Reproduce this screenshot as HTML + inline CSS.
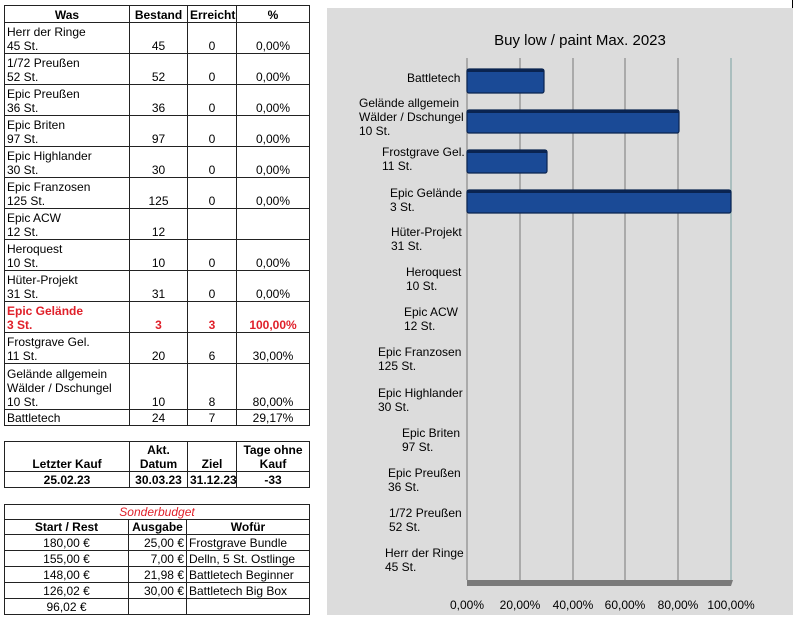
<!DOCTYPE html>
<html><head><meta charset="utf-8"><style>
body{margin:0;width:800px;height:623px;background:#fff;position:relative;overflow:hidden;font-family:"Liberation Sans",sans-serif;font-size:12px;color:#000}
table{position:absolute;border-collapse:collapse;table-layout:fixed;left:4px}
td{border:1px solid #222;padding:0 2px;line-height:14px;vertical-align:bottom;overflow:hidden;white-space:nowrap}
.c{text-align:center}.r{text-align:right}
.b{font-weight:bold}.red{color:#e0202a;font-weight:bold}
.lbl{position:absolute;font-size:12px;line-height:14px;text-align:left;white-space:nowrap}
</style></head><body>
<table style="top:5px;width:305px">
<col style="width:125px"><col style="width:58px"><col style="width:49px"><col style="width:73px">
<tr style="height:17px" class="b"><td class="c">Was</td><td class="c">Bestand</td><td class="c">Erreicht</td><td class="c">%</td></tr>
<tr style="height:31px"><td>Herr der Ringe<br>45 St.</td><td class="c">45</td><td class="c">0</td><td class="c">0,00%</td></tr>
<tr style="height:31px"><td>1/72 Preußen<br>52 St.</td><td class="c">52</td><td class="c">0</td><td class="c">0,00%</td></tr>
<tr style="height:31px"><td>Epic Preußen<br>36 St.</td><td class="c">36</td><td class="c">0</td><td class="c">0,00%</td></tr>
<tr style="height:31px"><td>Epic Briten<br>97 St.</td><td class="c">97</td><td class="c">0</td><td class="c">0,00%</td></tr>
<tr style="height:31px"><td>Epic Highlander<br>30 St.</td><td class="c">30</td><td class="c">0</td><td class="c">0,00%</td></tr>
<tr style="height:31px"><td>Epic Franzosen<br>125 St.</td><td class="c">125</td><td class="c">0</td><td class="c">0,00%</td></tr>
<tr style="height:31px"><td>Epic ACW<br>12 St.</td><td class="c">12</td><td></td><td></td></tr>
<tr style="height:31px"><td>Heroquest<br>10 St.</td><td class="c">10</td><td class="c">0</td><td class="c">0,00%</td></tr>
<tr style="height:31px"><td>Hüter-Projekt<br>31 St.</td><td class="c">31</td><td class="c">0</td><td class="c">0,00%</td></tr>
<tr style="height:31px" class="red"><td>Epic Gelände<br>3 St.</td><td class="c">3</td><td class="c">3</td><td class="c">100,00%</td></tr>
<tr style="height:31px"><td>Frostgrave Gel.<br>11 St.</td><td class="c">20</td><td class="c">6</td><td class="c">30,00%</td></tr>
<tr style="height:46px"><td>Gelände allgemein<br>Wälder / Dschungel<br>10 St.</td><td class="c">10</td><td class="c">8</td><td class="c">80,00%</td></tr>
<tr style="height:16px"><td>Battletech</td><td class="c">24</td><td class="c">7</td><td class="c">29,17%</td></tr>
</table>
<table style="top:441px;width:305px" class="b">
<col style="width:125px"><col style="width:58px"><col style="width:49px"><col style="width:73px">
<tr style="height:30px" class="b"><td class="c">Letzter Kauf</td><td class="c">Akt.<br>Datum</td><td class="c">Ziel</td><td class="c">Tage ohne<br>Kauf</td></tr>
<tr style="height:16px" class="b"><td class="c">25.02.23</td><td class="c">30.03.23</td><td class="c">31.12.23</td><td class="c">-33</td></tr>
</table>
<table style="top:504px;width:305px">
<col style="width:124px"><col style="width:58px"><col style="width:123px">
<tr style="height:15px"><td colspan="3" class="c" style="color:#e0202a;font-style:italic">Sonderbudget</td></tr>
<tr style="height:15px" class="b"><td class="c">Start / Rest</td><td class="c">Ausgabe</td><td class="c">Wofür</td></tr>
<tr style="height:16px"><td class="c">180,00 €</td><td class="r">25,00 €</td><td>Frostgrave Bundle</td></tr>
<tr style="height:16px"><td class="c">155,00 €</td><td class="r">7,00 €</td><td>Delln, 5 St. Ostlinge</td></tr>
<tr style="height:16px"><td class="c">148,00 €</td><td class="r">21,98 €</td><td>Battletech Beginner</td></tr>
<tr style="height:16px"><td class="c">126,02 €</td><td class="r">30,00 €</td><td>Battletech Big Box</td></tr>
<tr style="height:16px"><td class="c">96,02 €</td><td></td><td></td></tr>
</table>

<div style="position:absolute;left:327px;top:8px;width:466px;height:607px;background:#dcdcdc"></div>
<div style="position:absolute;left:792px;top:0;width:1px;height:8px;background:#000"></div>
<svg style="position:absolute;left:0;top:0" width="800" height="623">
<g stroke="#888" stroke-width="1.2">
<line x1="467" y1="58" x2="467" y2="580"/><line x1="520" y1="58" x2="520" y2="580"/><line x1="573" y1="58" x2="573" y2="580"/><line x1="625" y1="58" x2="625" y2="580"/><line x1="678" y1="58" x2="678" y2="580"/><line x1="731" y1="58" x2="731" y2="580" stroke="#8aa"/>
</g>
<polygon points="467,580 733,580 731,586 467,586" fill="#7a7a7a"/>
<g fill="#1a4a96" stroke="#0a2450" stroke-width="1.2">
<rect x="467" y="69" width="77" height="24" rx="2"/>
<rect x="467" y="110" width="212" height="23" rx="2"/>
<rect x="467" y="150" width="80" height="23" rx="2"/>
<rect x="467" y="190" width="264" height="23" rx="2"/>
</g>
<g fill="#0a2450"><rect x="467" y="69" width="77" height="3"/><rect x="467" y="110" width="212" height="3"/><rect x="467" y="150" width="80" height="3"/><rect x="467" y="190" width="264" height="3"/></g>
<text x="580" y="45" font-family="Liberation Sans" font-size="15" text-anchor="middle">Buy low / paint Max. 2023</text>
<g font-family="Liberation Sans" font-size="12" text-anchor="middle">
<text x="467" y="609">0,00%</text><text x="520" y="609">20,00%</text><text x="573" y="609">40,00%</text><text x="625" y="609">60,00%</text><text x="678" y="609">80,00%</text><text x="731" y="609">100,00%</text>
</g>
</svg>
<div class="lbl" style="left:407px;top:71px">Battletech</div>
<div class="lbl" style="left:359px;top:96px">Gelände allgemein<br>Wälder / Dschungel<br>10 St.</div>
<div class="lbl" style="left:382px;top:145px">Frostgrave Gel.<br>11 St.</div>
<div class="lbl" style="left:390px;top:186px">Epic Gelände<br>3 St.</div>
<div class="lbl" style="left:391px;top:225px">Hüter-Projekt<br>31 St.</div>
<div class="lbl" style="left:406px;top:265px">Heroquest<br>10 St.</div>
<div class="lbl" style="left:404px;top:305px">Epic ACW<br>12 St.</div>
<div class="lbl" style="left:378px;top:345px">Epic Franzosen<br>125 St.</div>
<div class="lbl" style="left:378px;top:386px">Epic Highlander<br>30 St.</div>
<div class="lbl" style="left:402px;top:426px">Epic Briten<br>97 St.</div>
<div class="lbl" style="left:388px;top:466px">Epic Preußen<br>36 St.</div>
<div class="lbl" style="left:389px;top:506px">1/72 Preußen<br>52 St.</div>
<div class="lbl" style="left:385px;top:546px">Herr der Ringe<br>45 St.</div>
</body></html>
